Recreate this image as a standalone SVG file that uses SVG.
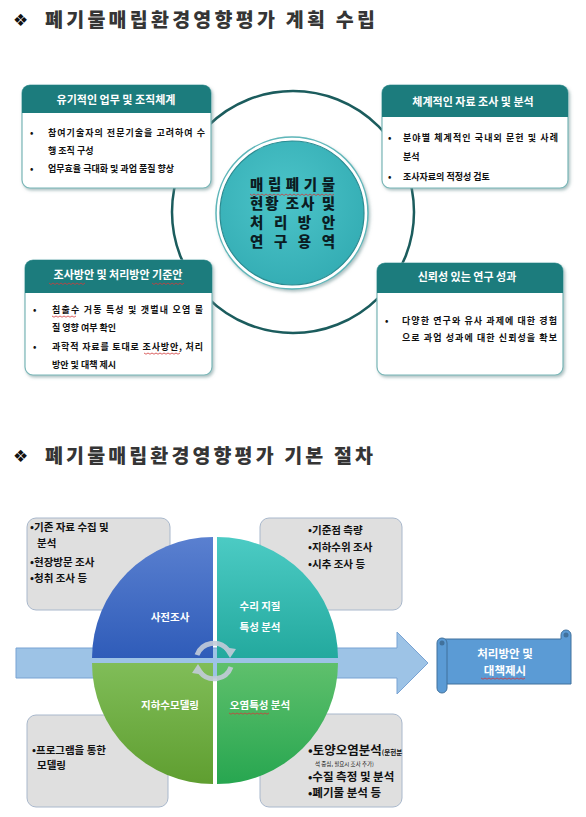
<svg xmlns="http://www.w3.org/2000/svg" width="586" height="817" viewBox="0 0 586 817">
<style>
text{font-family:"Noto Sans CJK KR","Noto Sans",sans-serif;}
.title{font-size:19.5px;font-weight:900;fill:#353535;}
.dia{font-size:17px;fill:#111;font-family:"DejaVu Sans",sans-serif;}
.hdr{font-size:11px;font-weight:700;fill:#fff;text-anchor:middle;}
.body{font-size:9px;font-weight:700;fill:#111;}
.ctr{font-size:14.5px;font-weight:900;fill:#0b1c22;}
.q{font-size:10.5px;font-weight:700;fill:#fff;text-anchor:middle;}
.g{font-size:10.5px;font-weight:700;fill:#111;}
.box{fill:#fff;stroke:#79b6b7;stroke-width:1.2;filter:url(#sh);}
.head{fill:#1c7c7d;}
.gbox{fill:#dfdfdf;stroke:#a9b8cc;stroke-width:1;}
.wavy{fill:none;stroke:#d23b3b;stroke-width:0.8;}
.ca{fill:none;stroke:#c3ccda;stroke-width:5;}
</style>
<defs>
<filter id="sh" x="-10%" y="-10%" width="125%" height="130%">
<feDropShadow dx="1.5" dy="2" stdDeviation="1.5" flood-color="#6a8f90" flood-opacity="0.55"/>
</filter>
<radialGradient id="tc" cx="0.45" cy="0.4" r="0.65">
<stop offset="0" stop-color="#4cc4c9"/>
<stop offset="1" stop-color="#33acb3"/>
</radialGradient>
<linearGradient id="qb" x1="0" y1="0" x2="0" y2="1"><stop offset="0" stop-color="#5a80d0"/><stop offset="1" stop-color="#2f5cb9"/></linearGradient>
<linearGradient id="qt" x1="0" y1="0" x2="0" y2="1"><stop offset="0" stop-color="#4ccbc4"/><stop offset="1" stop-color="#23a99e"/></linearGradient>
<linearGradient id="ql" x1="0" y1="0" x2="0" y2="1"><stop offset="0" stop-color="#80bd58"/><stop offset="1" stop-color="#5f9e30"/></linearGradient>
<linearGradient id="qr" x1="0" y1="0" x2="0" y2="1"><stop offset="0" stop-color="#5fc06c"/><stop offset="1" stop-color="#27a650"/></linearGradient>
</defs>
<rect width="586" height="817" fill="#fff"/>

<g id="title1">
<text class="dia" x="13" y="26">❖</text>
<text class="title" x="45" y="27" textLength="330" lengthAdjust="spacing">폐기물매립환경영향평가 계획 수립</text>
</g>

<g id="connectors">
<circle cx="293" cy="212" r="121" fill="none" stroke="#1b5c5d" stroke-width="2.5"/>
</g>

<g id="box1">
<rect class="box" x="22" y="85" width="189" height="103" rx="8"/>
<path class="head" d="M22,113 V93 A8,8 0 0 1 30,85 H203 A8,8 0 0 1 211,93 V113 Z"/>
<text class="hdr" x="116" y="104">유기적인 업무 및 조직체계</text>
<text class="body" x="30" y="136">•</text>
<text class="body" x="48" y="136" textLength="157" lengthAdjust="spacing">참여기술자의 전문기술을 고려하여 수</text>
<text class="body" x="48" y="154">행 조직 구성</text>
<text class="body" x="30" y="172">•</text>
<text class="body" x="48" y="172">업무효율 극대화 및 과업 품질 향상</text>
</g>

<g id="box2">
<rect class="box" x="382" y="85" width="186" height="103" rx="8"/>
<path class="head" d="M382,117 V93 A8,8 0 0 1 390,85 H560 A8,8 0 0 1 568,93 V117 Z"/>
<text class="hdr" x="473" y="106">체계적인 자료 조사 및 분석</text>
<text class="body" x="388" y="141">•</text>
<text class="body" x="403" y="141" textLength="155" lengthAdjust="spacing">분야별 체계적인 국내외 문헌 및 사례</text>
<text class="body" x="403" y="160">분석</text>
<text class="body" x="388" y="180">•</text>
<text class="body" x="403" y="180">조사자료의 적정성 검토</text>
</g>

<g id="box3">
<rect class="box" x="25" y="260" width="187" height="115" rx="8"/>
<path class="head" d="M25,293 V268 A8,8 0 0 1 33,260 H204 A8,8 0 0 1 212,268 V293 Z"/>
<text class="hdr" x="118" y="279">조사방안 및 처리방안 기준안</text>
<path class="wavy" d="M49,283 l2,1.5 l2,-1.5 l2,1.5 l2,-1.5 l2,1.5 l2,-1.5 l2,1.5 l2,-1.5 l2,1.5 l2,-1.5 l2,1.5 l2,-1.5 l2,1.5 l2,-1.5 l2,1.5 l2,-1.5 l2,1.5 l2,-1.5"/>
<path class="wavy" d="M152,283 l2,1.5 l2,-1.5 l2,1.5 l2,-1.5 l2,1.5 l2,-1.5 l2,1.5 l2,-1.5 l2,1.5 l2,-1.5 l2,1.5 l2,-1.5 l2,1.5 l2,-1.5 l2,1.5 l2,-1.5"/>
<text class="body" x="33" y="313">•</text>
<text class="body" x="52" y="313" textLength="151" lengthAdjust="spacing">침출수 거동 특성 및 갯벌내 오염 물</text>
<path class="wavy" d="M52,316 l2,1.2 l2,-1.2 l2,1.2 l2,-1.2 l2,1.2 l2,-1.2 l2,1.2 l2,-1.2 l2,1.2 l2,-1.2 l2,1.2 l2,-1.2"/>
<text class="body" x="52" y="331">질 영향 여부 확인</text>
<text class="body" x="33" y="350">•</text>
<text class="body" x="52" y="350" textLength="151" lengthAdjust="spacing">과학적 자료를 토대로 조사방안, 처리</text>
<path class="wavy" d="M144,353 l2,1.2 l2,-1.2 l2,1.2 l2,-1.2 l2,1.2 l2,-1.2 l2,1.2 l2,-1.2 l2,1.2 l2,-1.2 l2,1.2 l2,-1.2 l2,1.2 l2,-1.2 l2,1.2 l2,-1.2 l2,1.2 l2,-1.2"/>
<text class="body" x="52" y="368">방안 및 대책 제시</text>
</g>

<g id="box4">
<rect class="box" x="377" y="263" width="186" height="112" rx="8"/>
<path class="head" d="M377,293 V271 A8,8 0 0 1 385,263 H555 A8,8 0 0 1 563,271 V293 Z"/>
<text class="hdr" x="467" y="281">신뢰성 있는 연구 성과</text>
<text class="body" x="385" y="324">•</text>
<text class="body" x="402" y="324" textLength="155" lengthAdjust="spacing">다양한 연구와 유사 과제에 대한 경험</text>
<text class="body" x="402" y="341" textLength="155" lengthAdjust="spacing">으로 과업 성과에 대한 신뢰성을 확보</text>
</g>

<g id="center">
<circle cx="292" cy="213" r="76" fill="#fff" stroke="#5eb6b9" stroke-width="1.5" filter="url(#sh)"/>
<circle cx="292" cy="213" r="72" fill="url(#tc)" stroke="#2a8b91" stroke-width="1.2"/>
<text class="ctr" x="250" y="190" textLength="85" lengthAdjust="spacing">매 립 폐 기 물</text>
<path class="wavy" d="M250,194 l2,1.5 l2,-1.5 l2,1.5 l2,-1.5 l2,1.5 l2,-1.5 l2,1.5 l2,-1.5 l2,1.5 l2,-1.5 l2,1.5 l2,-1.5 l2,1.5 l2,-1.5 l2,1.5 l2,-1.5 l2,1.5 l2,-1.5 l2,1.5 l2,-1.5 l2,1.5 l2,-1.5 l2,1.5 l2,-1.5 l2,1.5 l2,-1.5 l2,1.5 l2,-1.5 l2,1.5 l2,-1.5 l2,1.5 l2,-1.5 l2,1.5 l2,-1.5 l2,1.5 l2,-1.5 l2,1.5 l2,-1.5 l2,1.5 l2,-1.5 l2,1.5 l2,-1.5"/>
<text class="ctr" x="250" y="209" textLength="85" lengthAdjust="spacing">현황 조사 및</text>
<text class="ctr" x="250" y="228" textLength="85" lengthAdjust="spacing">처 리 방 안</text>
<text class="ctr" x="250" y="247" textLength="85" lengthAdjust="spacing">연 구 용 역</text>
</g>

<g id="title2">
<text class="dia" x="13" y="462">❖</text>
<text class="title" x="45" y="463" textLength="328" lengthAdjust="spacing">폐기물매립환경영향평가 기본 절차</text>
</g>

<g id="box-tl">
<rect class="gbox" x="27" y="518" width="143" height="92" rx="9"/>
<text class="g" x="30" y="531">•기존 자료 수집 및</text>
<text class="g" x="37" y="547">분석</text>
<text class="g" x="30" y="566">•현장방문 조사</text>
<text class="g" x="30" y="582">•청취 조사 등</text>
</g>
<g id="box-tr">
<rect class="gbox" x="260" y="518" width="142" height="92" rx="9"/>
<text class="g" x="308" y="534">•기준점 측량</text>
<text class="g" x="308" y="551">•지하수위 조사</text>
<text class="g" x="308" y="568">•시추 조사 등</text>
</g>
<g id="box-bl">
<rect class="gbox" x="27" y="715" width="141" height="92" rx="9"/>
<text class="g" x="32" y="754">•프로그램을 통한</text>
<text class="g" x="37" y="769">모델링</text>
</g>
<g id="box-br">
<rect class="gbox" x="260" y="714" width="142" height="93" rx="9"/>
<text class="g" x="308" y="755" style="font-size:12.5px">•토양오염분석<tspan style="font-size:6.5px">(문헌분</tspan></text>
<text class="g" x="315" y="766" style="font-size:5.5px;font-weight:400">석 중심, 필요시 조사 추가)</text>
<text class="g" x="308" y="781" style="font-size:11.5px">•수질 측정 및 분석</text>
<text class="g" x="308" y="797" style="font-size:11.5px">•폐기물 분석 등</text>
</g>

<g id="arrow">
<polygon points="16,648 397,648 397,632 428,663 397,694 397,678 16,678" fill="#9dc3e6" stroke="#79a3d3" stroke-width="1"/>
</g>

<g id="pie">
<path d="M213,658 H92 A121,121 0 0 1 213,537 Z" fill="url(#qb)"/>
<path d="M217,658 V537 A121,121 0 0 1 338,658 Z" fill="url(#qt)"/>
<path d="M213,663 V784 A121,121 0 0 1 92,663 Z" fill="url(#ql)"/>
<path d="M217,663 H338 A121,121 0 0 1 217,784 Z" fill="url(#qr)"/>
<text class="q" x="170" y="621">사전조사</text>
<text class="q" x="260" y="610">수리 지질</text>
<text class="q" x="260" y="631">특성 분석</text>
<text class="q" x="170" y="709">지하수모델링</text>
<text class="q" x="260" y="709">오염특성 분석</text>
<path class="wavy" d="M229,713 l2,1.2 l2,-1.2 l2,1.2 l2,-1.2 l2,1.2 l2,-1.2 l2,1.2 l2,-1.2 l2,1.2 l2,-1.2 l2,1.2 l2,-1.2 l2,1.2 l2,-1.2 l2,1.2 l2,-1.2 l2,1.2 l2,-1.2 l2,1.2 l2,-1.2"/>
<g opacity="0.9">
<path class="ca" d="M197,655 A18,18 0 0 1 228,650"/>
<polygon points="223,647 236,649 230,658" fill="#c3ccda"/>
<path class="ca" d="M231,667 A18,18 0 0 1 200,672"/>
<polygon points="205,675 192,673 198,664" fill="#c3ccda"/>
</g>
</g>

<g id="scroll">
<path d="M445,639 H561 V635 A5,5 0 0 1 571,635 V684 H445 Z" fill="#5b9bd5" stroke="#41719c" stroke-width="1"/>
<circle cx="566" cy="635" r="2.5" fill="#41719c"/>
<path d="M437,643 A5,5 0 0 1 447,643 V688 A5,5 0 0 1 437,688 Z" fill="#5b9bd5" stroke="#41719c" stroke-width="1"/>
<circle cx="442" cy="643" r="2.5" fill="#41719c"/>
<text class="q" x="505" y="658" style="font-size:11.5px">처리방안 및</text>
<text class="q" x="505" y="675" style="font-size:11.5px">대책제시</text>
<path class="wavy" d="M481,678 l2,1.2 l2,-1.2 l2,1.2 l2,-1.2 l2,1.2 l2,-1.2 l2,1.2 l2,-1.2 l2,1.2 l2,-1.2 l2,1.2 l2,-1.2 l2,1.2 l2,-1.2 l2,1.2 l2,-1.2 l2,1.2 l2,-1.2 l2,1.2 l2,-1.2 l2,1.2 l2,-1.2"/>
</g>
</svg>
